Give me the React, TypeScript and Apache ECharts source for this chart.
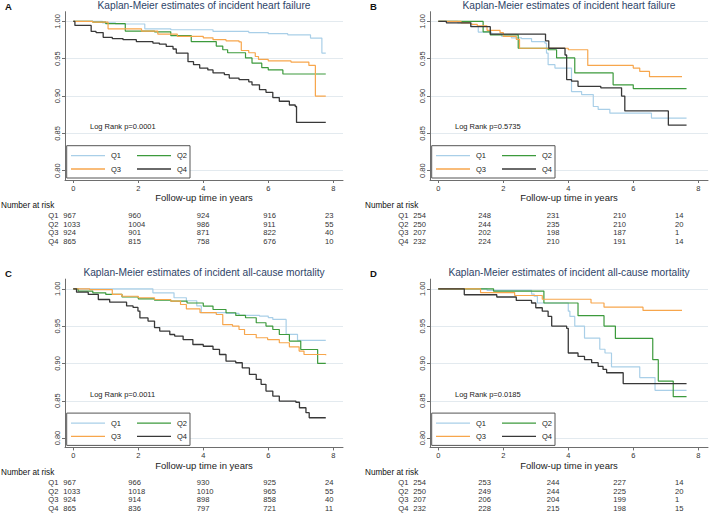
import React, { useEffect, useRef } from 'react';
import * as echarts from 'echarts';

const FONT = '"Liberation Sans", Arial, Helvetica, sans-serif';

const groups = ['Q1', 'Q2', 'Q3', 'Q4'];
const groupColors = ['#a9cfe8', '#3c9a3c', '#f7a64c', '#383838'];
const xTicks = [0, 2, 4, 6, 8];
const yTicks = [0.8, 0.85, 0.9, 0.95, 1.0];
const letters = ['A', 'B', 'C', 'D'];
const titles = [
  'Kaplan-Meier estimates of incident heart failure',
  'Kaplan-Meier estimates of incident heart failure',
  'Kaplan-Meier estimates of incident all-cause mortality',
  'Kaplan-Meier estimates of incident all-cause mortality',
];
const pValues = ['0.0001', '0.5735', '0.0011', '0.0185'];

// Panel A: heart failure (full cohort)
const A_Q1 = [[0, 1], [0.9, 0.998], [1.3, 0.9965], [2.2, 0.99], [3.0, 0.9888], [4.3, 0.9866], [5.4, 0.985], [6.0, 0.9835], [6.6, 0.982], [7.3, 0.9777], [7.65, 0.9576], [7.77, 0.9576]];
const A_Q2 = [[0, 1], [0.6, 0.999], [1.0, 0.997], [1.6, 0.987], [2.5, 0.986], [3.0, 0.981], [3.63, 0.973], [4.4, 0.967], [4.6, 0.962], [4.75, 0.958], [5.3, 0.951], [5.5, 0.944], [5.8, 0.938], [6.0, 0.935], [6.45, 0.9295], [7.77, 0.9295]];
const A_Q3 = [[0, 1], [0.6, 0.999], [1.07, 0.99], [2.1, 0.987], [2.6, 0.983], [3.2, 0.98], [4.0, 0.978], [4.3, 0.9755], [4.7, 0.974], [5.1, 0.9725], [5.17, 0.961], [5.4, 0.958], [5.6, 0.953], [5.7, 0.949], [6.0, 0.947], [6.7, 0.9455], [7.25, 0.941], [7.45, 0.9], [7.77, 0.9]];
const A_Q4 = [[0, 1], [0.05, 0.9946], [0.55, 0.9866], [0.7, 0.985], [0.92, 0.9786], [1.2, 0.977], [1.53, 0.9755], [1.94, 0.973], [2.45, 0.971], [2.65, 0.9695], [2.86, 0.9665], [3.07, 0.963], [3.17, 0.9576], [3.53, 0.946], [3.7, 0.942], [3.89, 0.9375], [4.14, 0.935], [4.3, 0.931], [4.65, 0.9286], [4.8, 0.924], [5.1, 0.922], [5.4, 0.919], [5.5, 0.915], [5.73, 0.9085], [5.93, 0.905], [6.14, 0.898], [6.34, 0.893], [6.65, 0.888], [6.83, 0.886], [6.87, 0.8647], [7.77, 0.8647]];

// Panel B: heart failure (subgroup)
const B_Q1 = [[0, 1], [0.6, 0.998], [1.03, 0.9933], [1.23, 0.9857], [1.64, 0.983], [1.95, 0.98], [2.25, 0.978], [2.56, 0.977], [2.87, 0.973], [3.28, 0.971], [3.33, 0.9576], [3.38, 0.942], [3.59, 0.9375], [4.1, 0.906], [4.41, 0.902], [4.77, 0.886], [4.92, 0.882], [5.28, 0.877], [6.56, 0.8705], [7.64, 0.8705]];
const B_Q2 = [[0, 1], [1.38, 0.986], [1.6, 0.982], [2.46, 0.964], [3.38, 0.962], [3.64, 0.951], [4.2, 0.931], [5.38, 0.915], [6.0, 0.91], [7.64, 0.91]];
const B_Q3 = [[0, 1], [0.7, 0.998], [1.0, 0.996], [1.2, 0.994], [1.5, 0.988], [1.9, 0.985], [2.0, 0.98], [2.4, 0.976], [2.5, 0.964], [4.0, 0.962], [4.6, 0.941], [6.0, 0.9375], [6.2, 0.933], [6.5, 0.926], [7.5, 0.926]];
const B_Q4 = [[0, 1], [0.25, 0.998], [1.0, 0.993], [1.6, 0.983], [3.3, 0.974], [3.4, 0.964], [3.9, 0.955], [3.95, 0.922], [4.1, 0.92], [4.3, 0.913], [5.0, 0.911], [5.64, 0.9], [5.74, 0.88], [7.08, 0.861], [7.64, 0.861]];

// Panel C: all-cause mortality (full cohort)
const C_Q1 = [[0, 1], [2.45, 0.9946], [3.1, 0.988], [3.48, 0.984], [3.8, 0.977], [3.94, 0.968], [4.7, 0.967], [5.1, 0.9645], [5.73, 0.9635], [6.0, 0.9615], [6.14, 0.959], [6.55, 0.939], [6.9, 0.931], [7.77, 0.931]];
const C_Q2 = [[0, 1], [0.15, 0.997], [0.6, 0.9946], [1.0, 0.9924], [1.5, 0.989], [2.0, 0.9866], [2.5, 0.9848], [3.0, 0.9835], [3.5, 0.981], [4.0, 0.9768], [4.3, 0.9723], [4.7, 0.9679], [5.0, 0.9643], [5.3, 0.9612], [5.63, 0.9545], [5.93, 0.95], [6.14, 0.9455], [6.34, 0.9388], [6.65, 0.93], [7.0, 0.9187], [7.52, 0.9], [7.77, 0.9]];
const C_Q3 = [[0, 1], [0.5, 0.999], [1.2, 0.9925], [1.5, 0.99], [2.0, 0.988], [2.5, 0.9857], [3.0, 0.9835], [3.3, 0.979], [3.48, 0.973], [3.9, 0.968], [4.4, 0.9656], [4.6, 0.952], [4.9, 0.95], [5.1, 0.9455], [5.27, 0.9388], [5.63, 0.9344], [5.98, 0.932], [6.34, 0.9277], [6.65, 0.9223], [6.95, 0.9165], [7.1, 0.912], [7.77, 0.911]];
const C_Q4 = [[0, 1], [0.1, 0.9955], [0.46, 0.9924], [0.77, 0.9857], [1.12, 0.9821], [1.64, 0.977], [1.84, 0.975], [1.99, 0.9701], [2.05, 0.961], [2.3, 0.9567], [2.5, 0.948], [2.66, 0.9433], [2.97, 0.9388], [3.12, 0.9366], [3.38, 0.932], [3.68, 0.9254], [4.0, 0.923], [4.3, 0.9188], [4.5, 0.912], [4.7, 0.903], [5.0, 0.9009], [5.2, 0.894], [5.42, 0.8853], [5.63, 0.8786], [5.78, 0.872], [5.93, 0.863], [6.14, 0.8563], [6.34, 0.8496], [6.85, 0.848], [6.96, 0.8406], [7.16, 0.834], [7.26, 0.8272], [7.77, 0.8272]];

// Panel D: all-cause mortality (subgroup)
const D_Q1 = [[0, 1], [1.5, 0.998], [2.87, 0.993], [2.95, 0.99], [3.05, 0.981], [4.0, 0.97], [4.05, 0.963], [4.2, 0.95], [4.5, 0.934], [4.97, 0.919], [5.13, 0.914], [5.33, 0.8955], [6.2, 0.881], [6.67, 0.864], [7.64, 0.864]];
const D_Q2 = [[0, 1], [1.7, 0.997], [3.25, 0.981], [4.3, 0.964], [5.1, 0.95], [5.45, 0.9335], [6.6, 0.905], [6.77, 0.8763], [7.23, 0.8554], [7.64, 0.8554]];
const D_Q3 = [[0, 1], [1.3, 0.995], [2.35, 0.991], [3.2, 0.986], [4.7, 0.981], [5.1, 0.9754], [6.3, 0.971], [7.5, 0.971]];
const D_Q4 = [[0, 1], [0.8, 0.992], [1.8, 0.989], [2.4, 0.9844], [2.87, 0.981], [3.0, 0.9746], [3.2, 0.97], [3.38, 0.963], [3.49, 0.95], [3.95, 0.947], [4.0, 0.914], [4.3, 0.9094], [4.5, 0.905], [4.72, 0.901], [4.92, 0.896], [5.07, 0.892], [5.18, 0.8875], [5.69, 0.873], [7.64, 0.873]];

// Numbers at risk at 0, 2, 4, 6, 8 years
const riskA_Q1 = [967, 960, 924, 916, 23];
const riskA_Q2 = [1033, 1004, 986, 911, 55];
const riskA_Q3 = [924, 901, 871, 822, 40];
const riskA_Q4 = [865, 815, 758, 676, 10];
const riskB_Q1 = [254, 248, 231, 210, 14];
const riskB_Q2 = [250, 244, 235, 210, 20];
const riskB_Q3 = [207, 202, 198, 187, 1];
const riskB_Q4 = [232, 224, 210, 191, 14];
const riskC_Q1 = [967, 966, 930, 925, 24];
const riskC_Q2 = [1033, 1018, 1010, 965, 55];
const riskC_Q3 = [924, 914, 898, 858, 40];
const riskC_Q4 = [865, 836, 797, 721, 11];
const riskD_Q1 = [254, 253, 244, 227, 14];
const riskD_Q2 = [250, 249, 244, 225, 20];
const riskD_Q3 = [207, 206, 204, 199, 1];
const riskD_Q4 = [232, 228, 215, 198, 15];

const curves = [
  [A_Q1, A_Q2, A_Q3, A_Q4],
  [B_Q1, B_Q2, B_Q3, B_Q4],
  [C_Q1, C_Q2, C_Q3, C_Q4],
  [D_Q1, D_Q2, D_Q3, D_Q4],
];
const risks = [
  [riskA_Q1, riskA_Q2, riskA_Q3, riskA_Q4],
  [riskB_Q1, riskB_Q2, riskB_Q3, riskB_Q4],
  [riskC_Q1, riskC_Q2, riskC_Q3, riskC_Q4],
  [riskD_Q1, riskD_Q2, riskD_Q3, riskD_Q4],
];

// Layout
const PANEL_DX = 365;
const PANEL_DY = 267.4;
const TABLE_DX = 350;
const GRID_LEFT = 65;
const GRID_TOP = 11.7;
const GRID_W = 278;
const GRID_H = 168.3;
const X_MIN = -0.255;
const X_MAX = 8.3;
const Y_MIN = 0.7875;
const Y_MAX = 1.013;
const RISK_COL_X = [63.3, 128.3, 196.7, 263.3, 325];
const RISK_ROW_Y = [215.5, 224, 232.5, 241];

const AXIS_COLOR = '#6e6e6e';
const GRID_COLOR = '#e3eaef';
const TITLE_COLOR = '#2e4468';

function buildOption() {
  const grid: any[] = [];
  const xAxis: any[] = [];
  const yAxis: any[] = [];
  const series: any[] = [];
  const graphic: any[] = [];

  for (let p = 0; p < 4; p++) {
    const dx = (p % 2) * PANEL_DX;
    const dy = Math.floor(p / 2) * PANEL_DY;
    const tdx = (p % 2) * TABLE_DX;
    grid.push({ left: GRID_LEFT + dx, top: GRID_TOP + dy, width: GRID_W, height: GRID_H, containLabel: false });
    xAxis.push({
      type: 'value', gridIndex: p, min: X_MIN, max: X_MAX,
      axisLine: { show: true, onZero: false, lineStyle: { color: AXIS_COLOR, width: 1 } },
      axisTick: { show: true, length: 3, customValues: xTicks, lineStyle: { color: AXIS_COLOR } },
      axisLabel: { customValues: xTicks, fontSize: 7.5, color: '#333', margin: 4, fontFamily: FONT },
      splitLine: { show: false },
      name: 'Follow-up time in years', nameLocation: 'middle', nameGap: 11,
      nameTextStyle: { fontSize: 9.5, color: '#222', fontFamily: FONT },
    });
    yAxis.push({
      type: 'value', gridIndex: p, min: Y_MIN, max: Y_MAX,
      axisLine: { show: true, onZero: false, lineStyle: { color: AXIS_COLOR, width: 1 } },
      axisTick: { show: true, length: 3, customValues: yTicks, lineStyle: { color: AXIS_COLOR } },
      axisLabel: { customValues: yTicks, rotate: 90, fontSize: 7.5, color: '#333', margin: 4, fontFamily: FONT, formatter: (v: number) => v.toFixed(2) },
      splitLine: { show: true, lineStyle: { color: GRID_COLOR, width: 1 } },
    });
    curves[p].forEach((data, g) => {
      series.push({
        name: groups[g], type: 'line', xAxisIndex: p, yAxisIndex: p, data,
        step: 'end', showSymbol: false, symbol: 'none', silent: true,
        lineStyle: { color: groupColors[g], width: g === 3 ? 1.3 : 1.2 },
        z: 2 + g,
      });
    });

    // panel letter and title
    graphic.push({ type: 'text', x: 5 + dx, y: 6 + dy, style: { text: letters[p], font: `bold 9.5px ${FONT}`, fill: '#111', verticalAlign: 'middle' } });
    graphic.push({ type: 'text', x: GRID_LEFT + dx + GRID_W / 2, y: 5.5 + dy, style: { text: titles[p], font: `10.2px ${FONT}`, fill: TITLE_COLOR, align: 'center', verticalAlign: 'middle' } });
    // log rank
    graphic.push({ type: 'text', x: 90 + dx, y: 126.7 + dy, z: 10, style: { text: `Log Rank p=${pValues[p]}`, font: `7.5px ${FONT}`, fill: '#222', verticalAlign: 'middle' } });
    // legend box
    const lx = 66.7 + dx;
    const ly = 145.7 + dy;
    graphic.push({ type: 'rect', x: lx, y: ly, z: 20, shape: { width: 123.3, height: 32.3 }, style: { fill: '#fff', stroke: '#555', lineWidth: 1 } });
    groups.forEach((gName, g) => {
      const col = g % 2;
      const row = Math.floor(g / 2);
      const yy = ly + 10 + row * 13.3;
      const x1 = lx + 4.3 + col * 66;
      graphic.push({ type: 'line', z: 21, shape: { x1, y1: yy, x2: x1 + 34, y2: yy }, style: { stroke: groupColors[g], lineWidth: 1.3 } });
      graphic.push({ type: 'text', z: 21, x: x1 + 40, y: yy, style: { text: gName, font: `7.5px ${FONT}`, fill: '#222', verticalAlign: 'middle' } });
    });
    // risk table
    graphic.push({ type: 'text', x: (p % 2 ? 365 : 1), y: 205.5 + dy, style: { text: 'Number at risk', font: `8.2px ${FONT}`, fill: '#111', verticalAlign: 'middle' } });
    risks[p].forEach((row, g) => {
      const yy = RISK_ROW_Y[g] + dy;
      graphic.push({ type: 'text', x: 48.3 + tdx, y: yy, style: { text: groups[g], font: `7.6px ${FONT}`, fill: '#333', verticalAlign: 'middle' } });
      row.forEach((n, c) => {
        graphic.push({ type: 'text', x: RISK_COL_X[c] + tdx, y: yy, style: { text: String(n), font: `7.6px ${FONT}`, fill: '#333', verticalAlign: 'middle' } });
      });
    });
  }

  return {
    animation: false,
    backgroundColor: '#ffffff',
    textStyle: { fontFamily: FONT },
    grid, xAxis, yAxis, series, graphic,
  };
}

export default function App() {
  const ref = useRef<HTMLDivElement>(null);
  useEffect(() => {
    document.body.style.margin = '0';
    if (!ref.current) return;
    const chart = echarts.init(ref.current, undefined, { renderer: 'svg' });
    chart.setOption(buildOption() as any);
    return () => chart.dispose();
  }, []);
  return <div ref={ref} style={{ width: 709, height: 513 }} />;
}
